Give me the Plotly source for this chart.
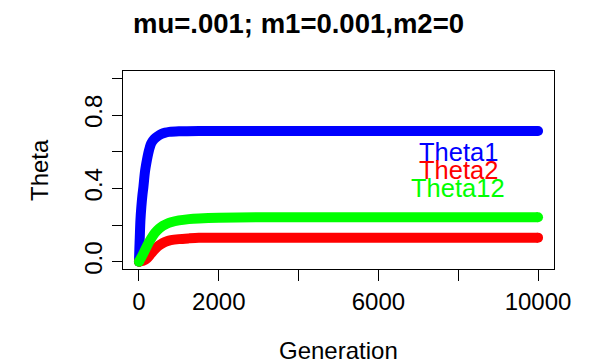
import plotly.graph_objects as go

# Data
gen_theta1 = [0, 10, 20, 37, 60, 85, 112, 150, 200, 233, 270, 308, 380, 467, 560, 660, 760, 1000, 1500, 2000, 10000]
theta1 = [0.0, 0.07, 0.13, 0.227, 0.30, 0.36, 0.409, 0.49, 0.555, 0.591, 0.622, 0.646, 0.668, 0.684, 0.696, 0.704, 0.708, 0.711, 0.713, 0.713, 0.713]
generation = [0, 100, 200, 300, 400, 500, 600, 700, 800, 1000, 1250, 1500, 2000, 3000, 10000]
theta2 = [0.0, 0.004, 0.018, 0.043, 0.068, 0.088, 0.102, 0.111, 0.117, 0.123, 0.127, 0.130, 0.131, 0.131, 0.131]
theta12 = [0.0, 0.04, 0.085, 0.124, 0.157, 0.180, 0.196, 0.207, 0.215, 0.225, 0.232, 0.236, 0.240, 0.242, 0.242]

series_names = ["Theta1", "Theta2", "Theta12"]
series_colors = ["#0000FF", "#FF0000", "#00FF00"]
series_x = [gen_theta1, generation, generation]
series_values = [theta1, theta2, theta12]
label_x = [8000, 8000, 8000]
label_y = [0.6, 0.5, 0.4]

x_ticks = [0, 2000, 4000, 6000, 8000, 10000]
x_ticktext = ["0", "2000", "", "6000", "", "10000"]
y_ticks = [0, 0.2, 0.4, 0.6, 0.8, 1.0]
y_ticktext = ["0.0", "", "0.4", "", "0.8", ""]

FONT = "Liberation Sans, Arial, Helvetica, sans-serif"
W, H = 592, 364
L, R, T, B = 123, 38, 71, 95

fig = go.Figure()
for name, col, xs, vals in zip(series_names, series_colors, series_x, series_values):
    fig.add_trace(go.Scatter(x=xs, y=vals, mode="lines",
                             line=dict(color=col, width=10, shape="spline", smoothing=0.8),
                             showlegend=False, hoverinfo="skip"))
    fig.add_trace(go.Scatter(x=[xs[0], xs[-1]], y=[vals[0], vals[-1]],
                             mode="markers", marker=dict(color=col, size=10, line=dict(width=0)),
                             showlegend=False, hoverinfo="skip"))

for name, col, lx, ly in zip(series_names, series_colors, label_x, label_y):
    fig.add_annotation(x=lx, y=ly, xref="x", yref="y", text=name, showarrow=False,
                       font=dict(family=FONT, size=25.5, color=col),
                       xanchor="center", yanchor="middle")

pw = W - L - R
ph = H - T - B
# title (centered on page), axis titles
fig.add_annotation(x=(298 - L) / pw, y=(H - B - 24) / ph, xref="paper", yref="paper",
                   text="<b>mu=.001; m1=0.001,m2=0</b>", showarrow=False,
                   font=dict(family=FONT, size=27.5, color="black"),
                   xanchor="center", yanchor="middle")
fig.add_annotation(x=0.5, y=(H - B - 350) / ph, xref="paper", yref="paper",
                   text="Generation", showarrow=False,
                   font=dict(family=FONT, size=24, color="black"),
                   xanchor="center", yanchor="middle")
fig.add_annotation(x=(39 - L) / pw, y=0.5, xref="paper", yref="paper",
                   text="Theta", showarrow=False, textangle=-90,
                   font=dict(family=FONT, size=24, color="black"),
                   xanchor="center", yanchor="middle")

fig.update_xaxes(range=[-400, 10400], tickvals=x_ticks, ticktext=x_ticktext,
                 ticks="outside", ticklen=11, tickwidth=1.3, tickcolor="black",
                 showline=True, linecolor="black", linewidth=1.3, mirror=True,
                 showgrid=False, zeroline=False,
                 tickfont=dict(family=FONT, size=24, color="black"))
fig.update_yaxes(range=[-0.04, 1.04], tickvals=y_ticks, ticktext=y_ticktext,
                 ticks="outside", ticklen=10, tickwidth=1.3, tickcolor="black",
                 tickangle=-90,
                 showline=True, linecolor="black", linewidth=1.3, mirror=True,
                 showgrid=False, zeroline=False,
                 tickfont=dict(family=FONT, size=24, color="black"))

fig.update_layout(width=W, height=H, margin=dict(l=L, r=R, t=T, b=B),
                  paper_bgcolor="white", plot_bgcolor="white",
                  font=dict(family=FONT))
fig.write_html("out.html")
